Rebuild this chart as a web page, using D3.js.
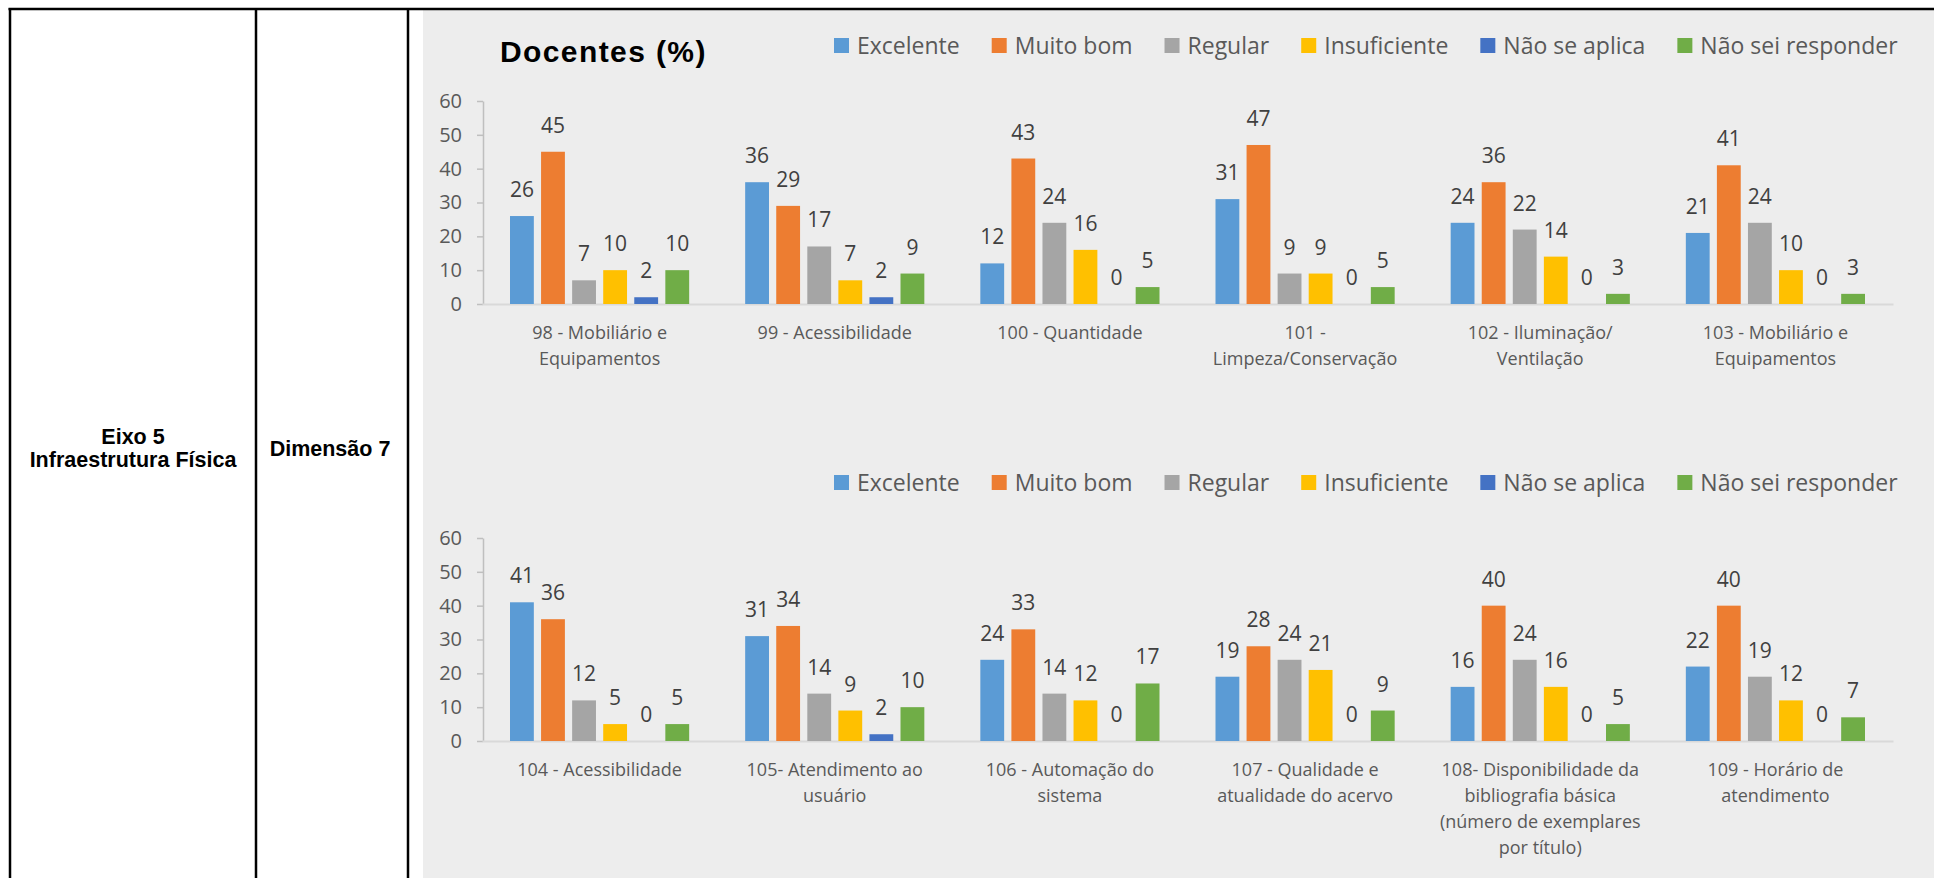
<!DOCTYPE html>
<html>
<head>
<meta charset="utf-8">
<script src="https://cdn.jsdelivr.net/npm/d3@7"></script>
<style>
  body { margin: 0; background: #fff; }
  svg { display: block; }
</style>
</head>
<body>
<div id="vis"></div>
<script>
// series and colours (Excel office palette)
const series = ["Excelente", "Muito bom", "Regular", "Insuficiente", "Não se aplica", "Não sei responder"];
const seriesColors = ["#5b9bd5", "#ed7d31", "#a5a5a5", "#ffc000", "#4472c4", "#70ad47"];

const yTicks = [0, 10, 20, 30, 40, 50, 60];

// upper chart
const topCategories = [
    "98 - Mobiliário e\nEquipamentos",
    "99 - Acessibilidade",
    "100 - Quantidade",
    "101 -\nLimpeza/Conservação",
    "102 - Iluminação/\nVentilação",
    "103 - Mobiliário e\nEquipamentos"
];
const topExcelente = [26, 36, 12, 31, 24, 21];
const topMuitoBom = [45, 29, 43, 47, 36, 41];
const topRegular = [7, 17, 24, 9, 22, 24];
const topInsuficiente = [10, 7, 16, 9, 14, 10];
const topNaoSeAplica = [2, 2, 0, 0, 0, 0];
const topNaoSei = [10, 9, 5, 5, 3, 3];

// lower chart
const bottomCategories = [
    "104 - Acessibilidade",
    "105- Atendimento ao\nusuário",
    "106 - Automação do\nsistema",
    "107 - Qualidade e\natualidade do acervo",
    "108- Disponibilidade da\nbibliografia básica\n(número de exemplares\npor título)",
    "109 - Horário de\natendimento"
];
const bottomExcelente = [41, 31, 24, 19, 16, 22];
const bottomMuitoBom = [36, 34, 33, 28, 40, 40];
const bottomRegular = [12, 14, 14, 24, 24, 19];
const bottomInsuficiente = [5, 9, 12, 21, 16, 12];
const bottomNaoSeAplica = [0, 2, 0, 0, 0, 0];
const bottomNaoSei = [5, 10, 17, 9, 5, 7];

var width = 1934, height = 878;
const font = "'Open Sans', sans-serif";
const textGray = "#595959";

var svg = d3.select("#vis")
    .append("svg")
    .attr("width", width)
    .attr("height", height);

// chart background
svg.append("rect")
    .attr("x", 423).attr("y", 10)
    .attr("width", width - 423).attr("height", height - 10)
    .attr("fill", "#ededed");

// table borders
svg.append("line")
    .attr("x1", 8.5).attr("x2", width).attr("y1", 9).attr("y2", 9)
    .attr("stroke", "#000").attr("stroke-width", 2.5);
[10, 256, 408].forEach(x => {
    svg.append("line")
        .attr("x1", x).attr("x2", x).attr("y1", 8).attr("y2", height)
        .attr("stroke", "#000").attr("stroke-width", 2.5);
});

// table cell text
var cellText = svg.append("g")
    .attr("font-family", "'Liberation Sans', Arial, sans-serif")
    .attr("font-weight", "bold")
    .attr("font-size", 21.5)
    .attr("fill", "#000")
    .attr("text-anchor", "middle");
cellText.append("text").attr("x", 133).attr("y", 443.5).text("Eixo 5");
cellText.append("text").attr("x", 133).attr("y", 467).text("Infraestrutura Física");
cellText.append("text").attr("x", 330).attr("y", 456).text("Dimensão 7");

function drawPanel(offset, categories, values, title) {
    const g = svg.append("g").attr("transform", "translate(0," + offset + ")");

    const y = d3.scaleLinear().domain([0, 60]).range([304, 101]);
    const x0 = d3.scaleBand().domain(categories).range([482, 1893]);
    const x1 = d3.scaleBand().domain(series)
        .range([28, x0.bandwidth() - 28])
        .paddingInner(0.233);
    const color = d3.scaleOrdinal().domain(series).range(seriesColors);

    // y axis
    const yAxis = g.append("g")
        .attr("transform", "translate(483,0)")
        .call(d3.axisLeft(y).tickValues(yTicks).tickSize(6).tickSizeOuter(0).tickPadding(15));
    yAxis.select(".domain").attr("stroke", "#bfbfbf").attr("stroke-width", 1.5);
    yAxis.selectAll(".tick line").attr("stroke", "#bfbfbf").attr("stroke-width", 1.5);
    yAxis.selectAll(".tick text")
        .attr("font-family", font).attr("font-size", 20).attr("fill", textGray);

    // x axis
    const xAxis = g.append("g")
        .attr("transform", "translate(0," + y(0) + ")")
        .call(d3.axisBottom(x0).tickSize(0).tickFormat(""));
    xAxis.select(".domain").attr("stroke", "#d9d9d9").attr("stroke-width", 2);

    xAxis.selectAll(".tick").each(function (d) {
        const t = d3.select(this).append("text")
            .attr("font-family", font).attr("font-size", 18)
            .attr("fill", textGray).attr("text-anchor", "middle");
        d.split("\n").forEach((line, i) => {
            t.append("tspan").attr("x", 0).attr("y", 34.5 + i * 26).text(line);
        });
    });

    // bars
    const rows = categories.map((c, ci) => ({
        category: c,
        items: series.map((s, si) => ({ key: s, value: values[si][ci] }))
    }));

    const groups = g.selectAll(".grp")
        .data(rows)
        .enter().append("g")
        .attr("class", "grp")
        .attr("transform", d => "translate(" + x0(d.category) + ",0)");

    groups.selectAll("rect")
        .data(d => d.items)
        .enter().append("rect")
        .attr("x", d => x1(d.key))
        .attr("y", d => y(d.value))
        .attr("width", x1.bandwidth())
        .attr("height", d => y(0) - y(d.value))
        .attr("fill", d => color(d.key));

    groups.selectAll(".lbl")
        .data(d => d.items)
        .enter().append("text")
        .attr("class", "lbl")
        .attr("x", d => x1(d.key) + x1.bandwidth() / 2)
        .attr("y", d => y(d.value) - 19)
        .attr("text-anchor", "middle")
        .attr("font-family", font).attr("font-size", 21)
        .attr("fill", "#404040")
        .text(d => d3.format(".0f")(d.value));

    // legend
    const legend = g.append("g").attr("transform", "translate(0,45.5)");
    let lx = 834;
    series.forEach((s, i) => {
        legend.append("rect")
            .attr("x", lx).attr("y", -7.5)
            .attr("width", 15).attr("height", 15)
            .attr("fill", seriesColors[i]);
        const t = legend.append("text")
            .attr("x", lx + 23).attr("y", 8.2)
            .attr("font-family", font).attr("font-size", 23)
            .attr("fill", textGray)
            .text(s);
        lx += 23 + t.node().getComputedTextLength() + 32;
    });

    if (title) {
        g.append("text")
            .attr("x", 500).attr("y", 62)
            .attr("font-family", "'Liberation Sans', Arial, sans-serif")
            .attr("font-weight", "bold")
            .attr("font-size", 30)
            .attr("letter-spacing", 1.4)
            .attr("fill", "#000")
            .text(title);
    }
}

drawPanel(0, topCategories,
    [topExcelente, topMuitoBom, topRegular, topInsuficiente, topNaoSeAplica, topNaoSei],
    "Docentes (%)");
drawPanel(437, bottomCategories,
    [bottomExcelente, bottomMuitoBom, bottomRegular, bottomInsuficiente, bottomNaoSeAplica, bottomNaoSei],
    null);
</script>
</body>
</html>
